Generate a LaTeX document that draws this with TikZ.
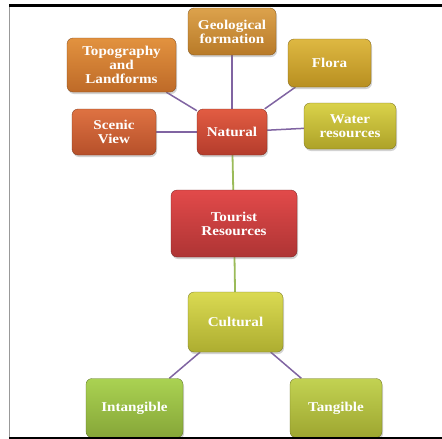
\documentclass[tikz,border=0pt]{standalone}
\usepackage{fontspec}
\setmainfont[FakeStretch=1.12]{Liberation Serif}
\usetikzlibrary{shadows,backgrounds}
\definecolor{purp}{HTML}{8064A2}
\definecolor{grn}{HTML}{9BBB59}
\newcommand{\boxfont}{\fontsize{13.5pt}{14pt}\selectfont\bfseries}
\tikzset{
  box/.style={rounded corners=6pt, align=center, text=white,
    font=\boxfont, inner sep=2pt,
    draw=#1!70!black, line width=0.3pt,
    drop shadow={shadow xshift=1pt, shadow yshift=-2pt, opacity=0.35}},
  purpline/.style={draw=purp, line width=1.5pt},
  grnline/.style={draw=grn, line width=1.8pt},
}
\definecolor{geoT}{HTML}{DCA24C}\definecolor{geoB}{HTML}{B87A28}
\definecolor{topT}{HTML}{E2923F}\definecolor{topB}{HTML}{BE6A28}
\definecolor{floT}{HTML}{DEB842}\definecolor{floB}{HTML}{B88F20}
\definecolor{scnT}{HTML}{DE7242}\definecolor{scnB}{HTML}{B6502A}
\definecolor{natT}{HTML}{E25C42}\definecolor{natB}{HTML}{B43C2C}
\definecolor{watT}{HTML}{DAD24A}\definecolor{watB}{HTML}{ADA228}
\definecolor{touT}{HTML}{E24A4A}\definecolor{touB}{HTML}{AE3434}
\definecolor{culT}{HTML}{DADA52}\definecolor{culB}{HTML}{ADAD30}
\definecolor{intT}{HTML}{AAD252}\definecolor{intB}{HTML}{86A638}
\definecolor{tanT}{HTML}{C2D252}\definecolor{tanB}{HTML}{9EA630}
\begin{document}
\begin{tikzpicture}[x=1pt,y=-1pt]
\useasboundingbox (0,0) rectangle (442,439);
% nodes
\node[box=geoB, top color=geoT, bottom color=geoB, minimum width=88pt, minimum height=47pt] (geo) at (232,31.5) {Geological\\formation};
\node[box=topB, top color=topT, bottom color=topB, minimum width=109pt, minimum height=54pt] (topo) at (121.5,65) {Topography\\and\\Landforms};
\node[box=floB, top color=floT, bottom color=floB, minimum width=83pt, minimum height=48pt] (flora) at (329.5,63) {Flora};
\node[box=scnB, top color=scnT, bottom color=scnB, minimum width=84pt, minimum height=46pt] (scenic) at (114,132) {Scenic\\View};
\node[box=natB, top color=natT, bottom color=natB, minimum width=70pt, minimum height=46pt] (natural) at (232,132) {Natural};
\node[box=watB, top color=watT, bottom color=watB, minimum width=92pt, minimum height=46pt] (water) at (350,126) {Water\\resources};
\node[box=touB, top color=touT, bottom color=touB, minimum width=126pt, minimum height=67pt] (tourist) at (234,223.5) {Tourist\\Resources};
\node[box=culB, top color=culT, bottom color=culB, minimum width=95pt, minimum height=60pt] (cultural) at (235.5,322) {Cultural};
\node[box=intB, top color=intT, bottom color=intB, minimum width=97pt, minimum height=59pt] (intang) at (134.5,408) {Intangible};
\node[box=tanB, top color=tanT, bottom color=tanB, minimum width=92pt, minimum height=59pt] (tang) at (336,408) {Tangible};
% connectors
\begin{scope}[on background layer]
\fill[white] (0,0) rectangle (442,439);
\draw[purpline] (natural) -- (geo);
\draw[purpline] (natural) -- (topo);
\draw[purpline] (natural) -- (flora);
\draw[purpline] (natural) -- (scenic);
\draw[purpline] (natural) -- (water);
\draw[grnline] (natural) -- (tourist);
\draw[grnline] (tourist) -- (cultural);
\draw[purpline] (cultural) -- (intang);
\draw[purpline] (cultural) -- (tang);
\end{scope}
% frame
\fill[white] (0,437) rectangle (442,439);
\draw[black!40, line width=0.8pt] (9.4,6) -- (9.4,437);
\draw[black, line width=3pt] (9,5.5) -- (442,5.5);
\draw[black, line width=2pt] (9,437.5) -- (442,437.5);
\end{tikzpicture}
\end{document}
